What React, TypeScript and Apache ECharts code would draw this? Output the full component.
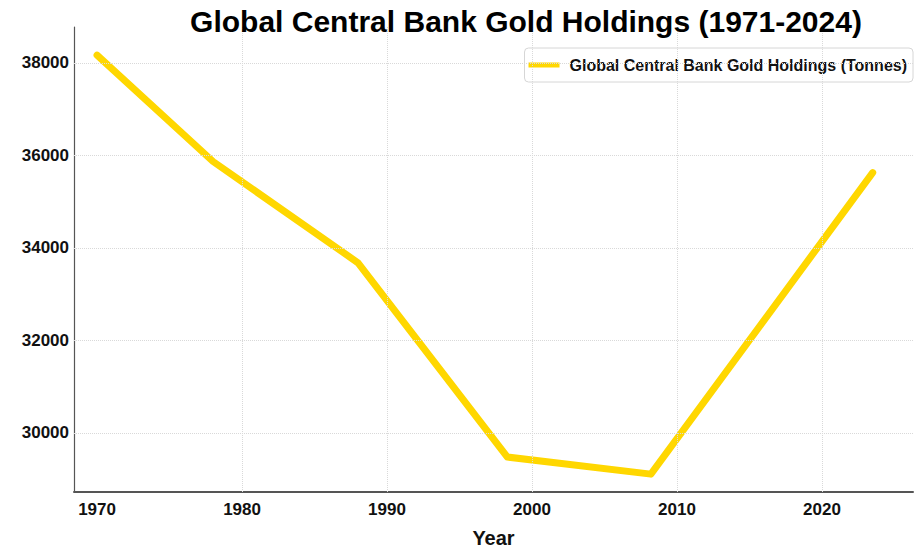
import React, { useEffect, useRef } from "react";
import * as echarts from "echarts";

const years = [1970, 1978, 1988, 1998.3, 2008.2, 2023.5];
const holdings = [38170, 35870, 33680, 29480, 29110, 35630];
const xTickValues = [1970, 1980, 1990, 2000, 2010, 2020];
const xGridValues = [1980, 1990, 2000, 2010, 2020];
const yTickValues = [30000, 32000, 34000, 36000, 38000];
const titleText = "Global Central Bank Gold Holdings (1971-2024)";
const seriesName = "Global Central Bank Gold Holdings (Tonnes)";

const FONT = "'Liberation Sans', Arial, sans-serif";

export default function App() {
  const ref = useRef<HTMLDivElement>(null);
  useEffect(() => {
    if (!ref.current) return;
    const chart = echarts.init(ref.current, undefined, { renderer: "svg" });
    const gridLineStyle = { color: "#d9d9d9", type: "dotted" as const, width: 1 };
    chart.setOption({
      animation: false,
      backgroundColor: "#ffffff",
      textStyle: { fontFamily: FONT },
      title: {
        text: titleText,
        left: 521,
        top: 1,
        textAlign: "center",
        textStyle: { fontFamily: FONT, fontSize: 30, fontWeight: "bold", color: "#000" },
      },
      legend: {
        data: [{ name: seriesName, icon: "rect" }],
        right: 9,
        top: 48,
        itemWidth: 31,
        itemHeight: 5,
        padding: [9, 6, 9, 4],
        backgroundColor: "#ffffff",
        borderColor: "#d6d6d6",
        borderWidth: 1,
        borderRadius: 4,
        textStyle: { fontFamily: FONT, fontSize: 16, fontWeight: "bold", color: "#111", padding: [0, 0, 0, 5] },
      },
      grid: { left: 74, right: 9, top: 27, bottom: 60, containLabel: false, outerBoundsMode: "none" },
      xAxis: {
        type: "value",
        min: 1968.41,
        max: 2026.28,
        name: "Year",
        nameLocation: "middle",
        nameGap: 36,
        nameTextStyle: { fontFamily: FONT, fontSize: 20, fontWeight: "bold", color: "#111" },
        axisLine: { show: true, lineStyle: { color: "#555", width: 2 } },
        axisTick: { show: false, customValues: xTickValues },
        axisLabel: {
          customValues: xTickValues,
          margin: 9,
          fontFamily: FONT,
          fontSize: 17,
          fontWeight: "bold",
          color: "#111",
          formatter: (v: number) => String(v),
        },
        splitLine: { show: false },
      },
      yAxis: {
        type: "value",
        min: 28724,
        max: 38778,
        axisLine: { show: true, lineStyle: { color: "#555", width: 1.2 } },
        axisTick: { show: false, customValues: yTickValues },
        axisLabel: {
          customValues: yTickValues,
          margin: 5,
          fontFamily: FONT,
          fontSize: 17,
          fontWeight: "bold",
          color: "#111",
          formatter: (v: number) => String(v),
        },
        splitLine: { show: false },
      },
      series: [
        {
          type: "line",
          name: "grid",
          data: [],
          z: 1,
          silent: true,
          markLine: {
            silent: true,
            symbol: "none",
            label: { show: false },
            lineStyle: gridLineStyle,
            data: [
              ...xGridValues.map((v) => ({ xAxis: v })),
              ...yTickValues.map((v) => ({ yAxis: v })),
            ],
          },
        },
        {
          type: "line",
          name: seriesName,
          z: 3,
          data: years.map((y, i) => [y, holdings[i]]),
          showSymbol: false,
          symbol: "none",
          color: "#FFD700",
          lineStyle: { color: "#FFD700", width: 7, cap: "round", join: "round" },
        },
      ],
    });
    return () => chart.dispose();
  }, []);
  return (
    <div
      ref={ref}
      style={{ position: "fixed", left: 0, top: 0, width: 922, height: 552 }}
    />
  );
}
